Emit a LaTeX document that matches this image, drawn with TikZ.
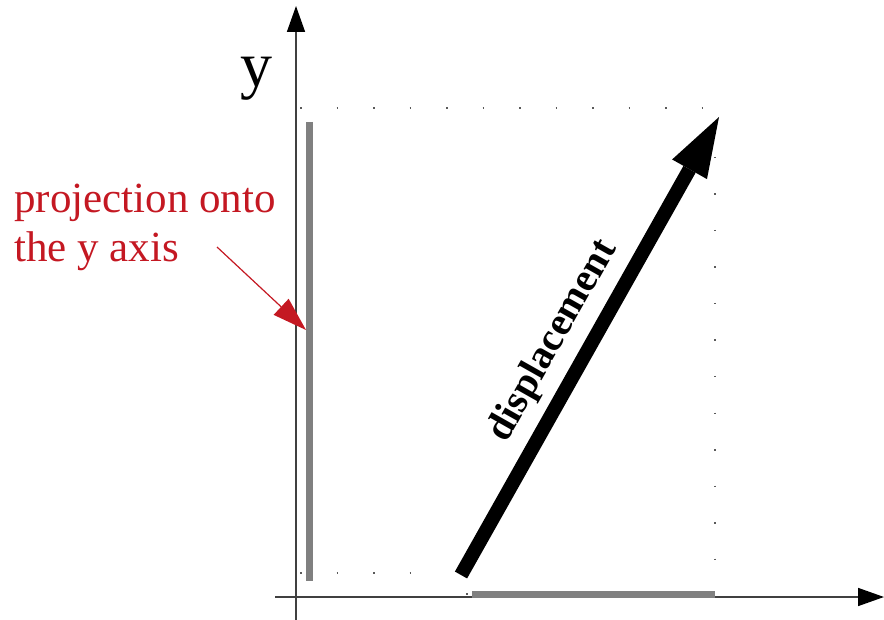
\documentclass[tikz,border=0pt]{standalone}
\usepackage{fontspec}
\setmainfont{Liberation Serif}
\usetikzlibrary{arrows.meta}
\definecolor{projred}{RGB}{196,24,34}
\definecolor{bargray}{RGB}{128,128,128}

\begin{document}
\begin{tikzpicture}[x=1pt,y=-1pt,
  axis/.style={line width=1.6pt,black!75,-{Triangle[length=26pt,width=18pt,color=black]}},
  bar/.style={line width=7pt,bargray},
  guide/.style={line width=1.5pt,black!65,dash pattern=on 1.5pt off 35pt},
  disp/.style={line width=14pt,-{Triangle[length=60pt,width=40pt,line width=0pt]}},
  pointer/.style={line width=1.2pt,projred,-{Triangle[length=34pt,width=22pt,line width=0pt]}}]
\useasboundingbox (0,0) rectangle (884,620);
% assi
\coordinate (ybot) at (296,620);
\coordinate (ytop) at (296,6);
\coordinate (xleft) at (275,597);
\coordinate (xright) at (884,597);
\draw[axis] (ybot) -- (ytop);
\draw[axis] (xleft) -- (xright);
\node[font=\fontsize{64}{64}\selectfont,anchor=base,inner sep=0pt] (ylab) at (256,87) {y};
% guide tratteggiate
\coordinate (tl) at (300,108);
\coordinate (tr) at (702,108);
\coordinate (rt) at (715,157);
\coordinate (rb) at (715,560);
\coordinate (bl) at (300,573);
\coordinate (br) at (446,573);
\coordinate (dot) at (467,593);
\draw[guide] (tl) -- (tr);
\draw[guide] (rt) -- (rb);
\draw[guide] (bl) -- (br);
\draw[guide] (dot) -- ++(0,1.5);
% proiezioni
\coordinate (py1) at (309,122);
\coordinate (py2) at (309,581);
\coordinate (px1) at (472,594);
\coordinate (px2) at (715,594);
\draw[bar] (py1) -- (py2);
\draw[bar] (px1) -- (px2);
% spostamento
\coordinate (tail) at (461,575);
\coordinate (tip) at (719,117);
\draw[disp] (tail) -- (tip);
\node[font=\fontsize{40}{40}\selectfont\bfseries,rotate=60.5] (dlab) at (553,341) {displacement};
% etichetta rossa
\node[font=\fontsize{43}{49}\selectfont,text=projred,align=left,anchor=base west,inner sep=0pt] (plab) at (14,262) {projection onto\\the y axis};
\coordinate (pstart) at (217,247);
\coordinate (pend) at (306,330);
\draw[pointer] (pstart) -- (pend);
\end{tikzpicture}
\end{document}
